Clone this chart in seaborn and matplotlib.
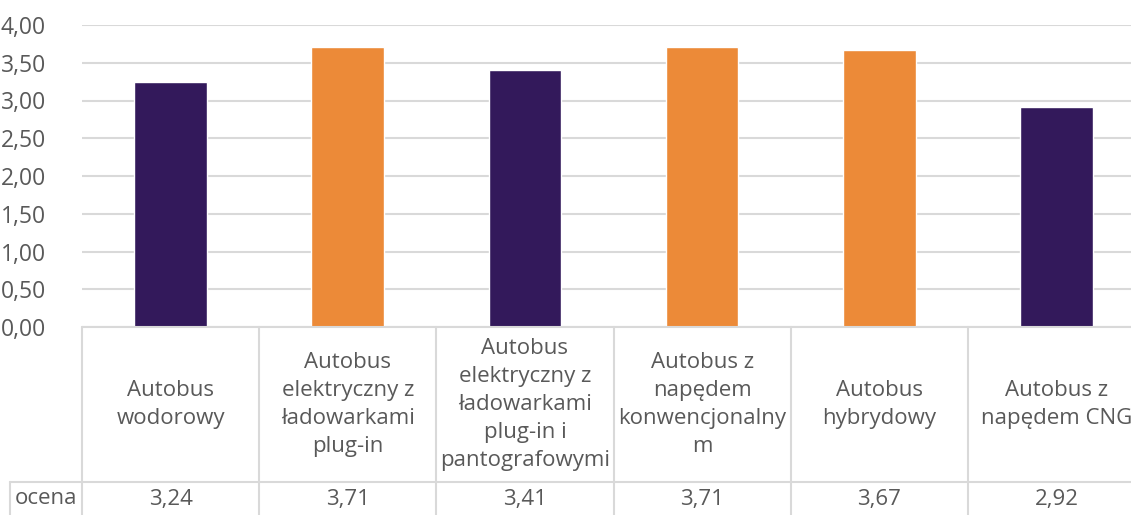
import matplotlib
matplotlib.use('Agg')
import matplotlib.pyplot as plt
import matplotlib.transforms as mtransforms
import seaborn as sns
import pandas as pd

# Data
categories = [
    'Autobus\nwodorowy',
    'Autobus\nelektryczny z\nładowarkami\nplug-in',
    'Autobus\nelektryczny z\nładowarkami\nplug-in i\npantografowymi',
    'Autobus z\nnapędem\nkonwencjonalny\nm',
    'Autobus\nhybrydowy',
    'Autobus z\nnapędem CNG',
]
ocena = [3.24, 3.71, 3.41, 3.71, 3.67, 2.92]
row_label = 'ocena'
yticks = [0, 0.5, 1, 1.5, 2, 2.5, 3, 3.5, 4]

purple = '#33195B'
orange = '#EC8A38'
bar_colors = [purple, orange, purple, orange, orange, purple]
grid_col = '#D9D9D9'
text_col = '#595959'

sns.set_style('white')
plt.rcParams['font.family'] = ['Open Sans', 'DejaVu Sans']

df = pd.DataFrame({'kat': categories, 'ocena': ocena})

fig = plt.figure(figsize=(11.31, 5.15), dpi=100)
ax = fig.add_axes([82 / 1131, (515 - 327) / 515, (1145 - 82) / 1131, 302 / 515])

sns.barplot(data=df, x='kat', y='ocena', hue='kat', palette=bar_colors,
            legend=False, width=0.41, saturation=1, ax=ax)

ax.set_ylim(0, 4)
ax.set_xlim(-0.5, len(categories) - 0.5)
ax.set_yticks(yticks)
ax.set_yticklabels([f'{v:.2f}'.replace('.', ',') for v in yticks],
                   fontsize=16.5, color=text_col)
ax.tick_params(axis='y', length=0, pad=26)
ax.set_xticks([])
ax.set_xlabel('')
ax.set_ylabel('')
ax.yaxis.grid(True, color=grid_col, linewidth=1.5)
ax.set_axisbelow(True)
for s in ax.spines.values():
    s.set_visible(False)

# Data table below the chart
trans = mtransforms.blended_transform_factory(ax.transData, ax.transAxes)
y_row = (327 - 482) / 302
y_bot = (327 - 520) / 302
x_left = -0.5 - 72 / 177.2
n = len(categories)
line_kw = dict(color=grid_col, linewidth=1.5, transform=trans, clip_on=False)

ax.plot([-0.5, n - 0.5], [0, 0], **line_kw)
ax.plot([x_left, n - 0.5], [y_row, y_row], **line_kw)
ax.plot([x_left, x_left], [y_row, y_bot], **line_kw)
for i in range(n + 1):
    ax.plot([i - 0.5, i - 0.5], [0, y_bot], **line_kw)

for i, (cat, val) in enumerate(zip(categories, ocena)):
    ax.text(i, y_row / 2, cat, transform=trans, ha='center', va='center',
            fontsize=16, color=text_col, linespacing=1.45, clip_on=False)
    ax.text(i, (327 - 499) / 302, f'{val:.2f}'.replace('.', ','), transform=trans,
            ha='center', va='center', fontsize=16, color=text_col, clip_on=False)
ax.text((x_left - 0.5) / 2, (327 - 499) / 302, row_label, transform=trans,
        ha='center', va='center', fontsize=16, color=text_col, clip_on=False)

fig.savefig('out.png', dpi=100)
